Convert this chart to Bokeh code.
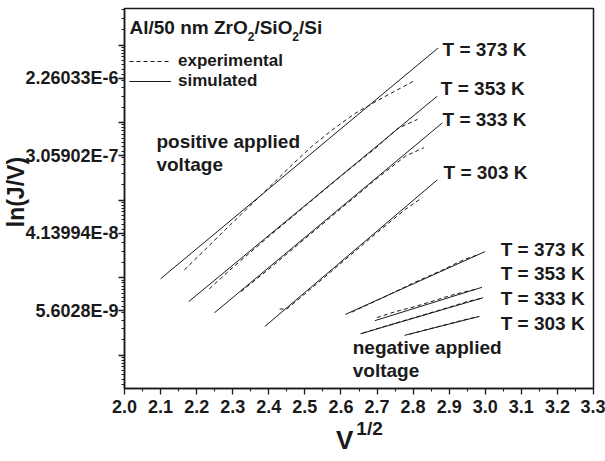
import math
from bokeh.plotting import figure
from bokeh.models import (Label, FixedTicker, CustomJSTickFormatter, Range1d, LinearAxis,
                          NumeralTickFormatter, Legend, LegendItem)
from bokeh.embed import file_html
from bokeh.resources import INLINE

# ---------------- data (ln(J/V) versus V^1/2) ----------------
temps = ["373", "353", "333", "303"]

# positive applied voltage - simulated
pos_sim_x = [[2.100, 2.869], [2.178, 2.867], [2.249, 2.881], [2.389, 2.867]]
pos_sim_y = [[-18.17, -12.22], [-18.76, -13.46], [-19.05, -14.15], [-19.40, -15.62]]

# positive applied voltage - experimental
pos_exp_x = [
    [2.166, 2.22, 2.28, 2.34, 2.40, 2.46, 2.52, 2.58, 2.64, 2.70, 2.75, 2.80],
    [2.235, 2.30, 2.40, 2.50, 2.60, 2.70, 2.756, 2.812],
    [2.323, 2.40, 2.50, 2.60, 2.70, 2.78, 2.83],
    [2.43, 2.45, 2.50, 2.60, 2.70, 2.78, 2.825],
]
pos_exp_y = [
    [-17.94, -17.45, -16.90, -16.36, -15.82, -15.27, -14.75, -14.30, -13.90, -13.58, -13.33, -13.08],
    [-18.43, -17.88, -17.08, -16.30, -15.52, -14.77, -14.30, -14.06],
    [-18.50, -17.92, -17.14, -16.36, -15.58, -15.00, -14.79],
    [-18.95, -18.95, -18.56, -17.77, -16.98, -16.37, -16.08],
]

# negative applied voltage - simulated
neg_sim_x = [[2.612, 2.999], [2.694, 2.991], [2.654, 2.994], [2.776, 2.984]]
neg_sim_y = [[-19.09, -17.47], [-19.25, -18.39], [-19.59, -18.66], [-19.63, -19.14]]

# negative applied voltage - experimental
neg_exp_x = [
    [2.63, 2.72, 2.80, 2.88, 2.94, 2.98],
    [2.70, 2.75, 2.80, 2.85, 2.90, 2.95, 2.97],
    [2.66, 2.72, 2.80, 2.88, 2.95, 2.99],
    [2.79, 2.85, 2.90, 2.95, 2.98],
]
neg_exp_y = [
    [-19.03, -18.64, -18.28, -17.95, -17.68, -17.55],
    [-19.17, -19.02, -18.90, -18.76, -18.61, -18.49, -18.45],
    [-19.57, -19.40, -19.18, -18.96, -18.76, -18.67],
    [-19.60, -19.45, -19.33, -19.21, -19.15],
]

# axis ticks
x_ticks = [2.0, 2.1, 2.2, 2.3, 2.4, 2.5, 2.6, 2.7, 2.8, 2.9, 3.0, 3.1, 3.2, 3.3]
y_tick_vals = [-19, -17, -15, -13]
y_tick_labels = ["5.6028E-9", "4.13994E-8", "3.05902E-7", "2.26033E-6"]

# ---------------- layout helpers ----------------
W, H = 605, 461
FL, FR, FT, FB = 123, 593, 8, 388
X0, X1, Y0, Y1 = 2.0, 3.3, -21.0, -11.2


def X(px):
    return X0 + (px - FL) / (FR - FL) * (X1 - X0)


def Y(py):
    return Y1 - (py - FT) / (FB - FT) * (Y1 - Y0)


FONT = "Liberation Sans"
INK = "#1a1a1a"
NB = "\u00a0"

p = figure(width=W, height=H, x_range=Range1d(X0, X1), y_range=Range1d(Y0, Y1),
           output_backend="svg", toolbar_location=None,
           min_border_left=FL, min_border_right=W - FR,
           min_border_top=FT, min_border_bottom=H - FB)
p.grid.visible = False
p.background_fill_color = "white"
p.border_fill_color = "white"
p.outline_line_color = INK
p.outline_line_width = 1.5
p.outline_line_alpha = 1.0

# x axis
x_minor = [round(t + 0.05, 2) for t in x_ticks[:-1]]
p.xaxis.ticker = FixedTicker(ticks=x_ticks, minor_ticks=x_minor)
p.xaxis.formatter = NumeralTickFormatter(format="0.0")

# y axis: labelled ticks plus log-like long/minor ticks
long_ticks = [-12.15 - 2 * m for m in range(5)]
y_minor = []
for b in long_ticks + [-22.15]:
    for k in [1.5, 2, 2.5, 3, 3.5, 4, 4.5, 5, 5.5, 6, 6.5, 7]:
        v = b + math.log(k)
        if Y0 < v < Y1:
            y_minor.append(round(v, 4))
p.yaxis.ticker = FixedTicker(ticks=sorted(y_tick_vals + long_ticks), minor_ticks=y_minor)
p.yaxis.formatter = CustomJSTickFormatter(
    args=dict(vals=y_tick_vals, labs=y_tick_labels),
    code="for (let i = 0; i < vals.length; i++) { if (Math.abs(tick - vals[i]) < 1e-6) return labs[i]; } return '';")

for ax in (p.xaxis[0], p.yaxis[0]):
    ax.axis_line_color = INK
    ax.axis_line_width = 1.5
    ax.major_tick_line_color = INK
    ax.minor_tick_line_color = INK
    ax.major_tick_line_width = 1.3
    ax.minor_tick_line_width = 1.1
    ax.major_tick_in = 0
    ax.minor_tick_in = 0
    ax.major_tick_out = 6
    ax.minor_tick_out = 3
    ax.major_label_text_font = FONT
    ax.major_label_text_font_style = "bold"
    ax.major_label_text_color = INK
    ax.axis_label_text_font = FONT
    ax.axis_label_text_font_style = "bold"
    ax.axis_label_text_color = INK
p.xaxis.major_label_text_font_size = "18px"
p.xaxis.major_label_standoff = 5
p.yaxis.major_label_text_font_size = "18px"
p.yaxis.major_label_standoff = 0

# y axis title (leading no-break spaces nudge it upwards)
p.yaxis.axis_label = NB * 2 + "ln(J/V)"
p.yaxis.axis_label_text_font_size = "23px"
p.yaxis.axis_label_standoff = -7

# x axis title  V^(1/2): superscript on the tick axis, the V on a bare axis below it
p.xaxis.axis_label = NB * 4 + "1/2"
p.xaxis.axis_label_text_font_size = "19px"
p.xaxis.axis_label_standoff = 2
v_axis = LinearAxis(ticker=FixedTicker(ticks=[]), axis_line_alpha=0,
                    major_tick_out=0, minor_tick_out=0, major_tick_in=0, minor_tick_in=0,
                    axis_label="V" + NB * 4, axis_label_standoff=-17,
                    axis_label_text_font=FONT, axis_label_text_font_style="bold",
                    axis_label_text_font_size="26px", axis_label_text_color=INK)
p.add_layout(v_axis, "below")

# ---------------- curves ----------------
exp_r, sim_r = None, None
for i in range(len(temps)):
    sim_r = p.line(pos_sim_x[i], pos_sim_y[i], line_color=INK, line_width=1)
    exp_r = p.line(pos_exp_x[i], pos_exp_y[i], line_color=INK, line_width=1, line_dash="4 3")
    p.line(neg_sim_x[i], neg_sim_y[i], line_color=INK, line_width=1)
    p.line(neg_exp_x[i], neg_exp_y[i], line_color=INK, line_width=1, line_dash="4 3")

legend_style = dict(background_fill_alpha=0, border_line_alpha=0, padding=0, margin=0,
                    spacing=0, glyph_width=42, label_standoff=7,
                    label_text_font=FONT, label_text_font_style="bold",
                    label_text_font_size="17px", label_text_color=INK)
p.add_layout(Legend(items=[LegendItem(label="experimental", renderers=[exp_r])],
                    location=(5, 317), **legend_style))
p.add_layout(Legend(items=[LegendItem(label="simulated", renderers=[sim_r])],
                    location=(5, 297), **legend_style))


# ---------------- texts ----------------
def txt(px, py, s, size="19px", align="left", angle=0.0):
    p.add_layout(Label(x=X(px), y=Y(py), text=s, text_font=FONT, text_font_style="bold",
                       text_font_size=size, text_color=INK, text_align=align,
                       text_baseline="middle", angle=angle))


# title with subscripts
txt(128, 27, "Al/50 nm ZrO")
txt(246.5, 35.5, "2", size="12px")
txt(253.2, 27, "/SiO")
txt(291.2, 35.5, "2", size="12px")
txt(297.9, 27, "/Si")

txt(155, 141, "positive applied")
txt(155, 163.5, "voltage")
txt(351.7, 346.5, "negative applied")
txt(351.7, 370, "voltage")

upper_pos = [(441.7, 49), (440, 88.3), (441.7, 119), (442.7, 172)]
lower_pos = [(500, 249), (500, 273.3), (500, 297.5), (500, 322.5)]
for t, (ux, uy), (lx, ly) in zip(temps, upper_pos, lower_pos):
    txt(ux, uy, "T = " + t + " K")
    txt(lx, ly, "T = " + t + " K")

open("out.html", "w").write(file_html(p, INLINE))
